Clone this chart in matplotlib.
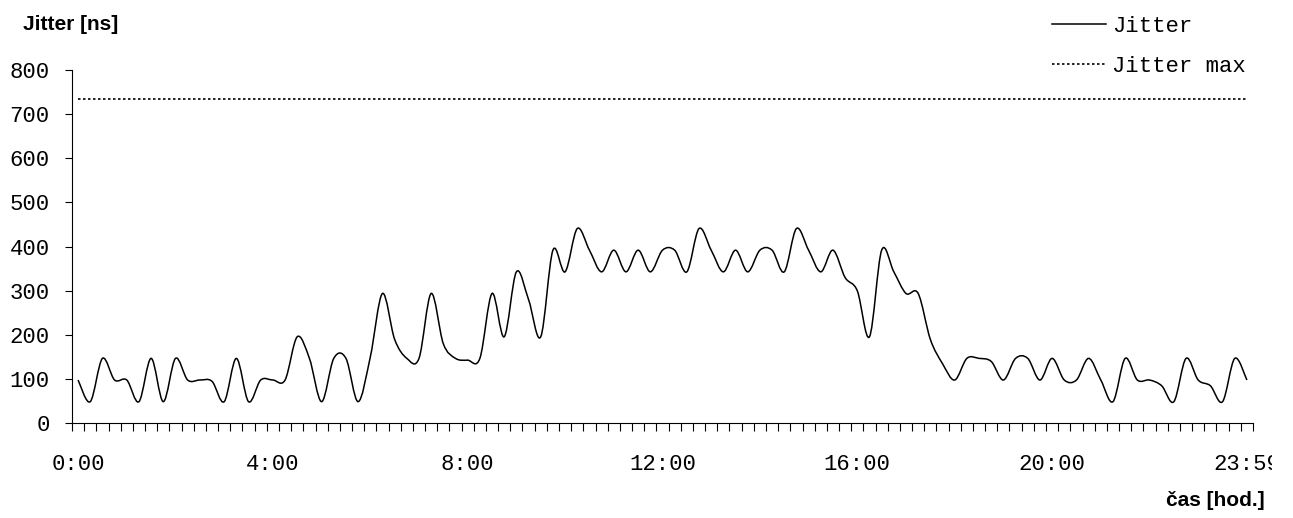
import numpy as np
import matplotlib.pyplot as plt
from matplotlib.lines import Line2D
from matplotlib.path import Path
from matplotlib.patches import PathPatch
from matplotlib.ticker import FixedLocator, MultipleLocator
from matplotlib.transforms import Bbox, TransformedBbox

# jitter sampled every 15 minutes over one day (0:00 .. 23:59)
jitter = [98, 49, 147, 98, 98, 49, 147, 49, 147, 98,
          98, 95, 49, 147, 49, 98, 98, 98, 196, 147,
          49, 147, 147, 49, 150, 294, 190, 147, 147, 294,
          180, 147, 143, 147, 294, 196, 343, 280, 196, 392,
          343, 441, 392, 343, 392, 343, 392, 343, 392, 392,
          343, 441, 392, 343, 392, 343, 392, 392, 343, 441,
          392, 343, 392, 330, 300, 196, 392, 343, 294, 294,
          190, 135, 98, 147, 147, 140, 98, 147, 147, 98,
          147, 98, 98, 147, 98, 49, 147, 98, 98, 85,
          49, 147, 98, 85, 49, 147, 98]
jitter_max = 735
time_labels = ["0:00", "4:00", "8:00", "12:00", "16:00", "20:00", "23:59"]
label_step = 16  # 16 samples = 4 hours

x = np.arange(len(jitter))

plt.rcParams['font.family'] = ['Liberation Mono', 'DejaVu Sans Mono']

W, H = 1293, 518
fig = plt.figure(figsize=(W / 100, H / 100), dpi=100)
ax = fig.add_axes([72 / W, 94.7 / H, 1181 / W, 353.3 / H])

# smoothed line (like excel "smoothed line"): bezier segments through every sample
pts = np.column_stack([x, jitter]).astype(float)
ext = np.vstack([pts[0], pts, pts[-1]])
verts = [pts[0]]
codes = [Path.MOVETO]
for i in range(len(pts) - 1):
    p0, p1, p2, p3 = ext[i], ext[i + 1], ext[i + 2], ext[i + 3]
    verts += [p1 + (p2 - p0) / 6, p2 - (p3 - p1) / 6, p2]
    codes += [Path.CURVE4] * 3
ax.add_patch(PathPatch(Path(verts, codes), fill=False, ec='black', lw=1.1))

ax.plot(x, [jitter_max] * len(x), color='black', lw=1.2, ls=(0, (1.5, 1.5)))

ax.set_xlim(-0.5, len(jitter) - 0.5)
ax.set_ylim(0, 800)
ax.yaxis.set_major_locator(MultipleLocator(100))
ax.set_xticks(x[::label_step])
ax.set_xticklabels(time_labels)
ax.xaxis.set_minor_locator(FixedLocator(np.arange(-0.5, len(jitter))))
ax.tick_params(axis='x', which='major', length=0, pad=22, labelsize=16)
ax.tick_params(axis='x', which='minor', length=6, width=0.8, direction='out')
ax.tick_params(axis='y', length=5, width=0.8, pad=11, labelsize=16)
for s in ['top', 'right']:
    ax.spines[s].set_visible(False)
for s in ['left', 'bottom']:
    ax.spines[s].set_linewidth(0.8)

# last label is cut off at the edge of the chart area
lbl = ax.xaxis.get_major_ticks()[-1].label1
lbl.set_clip_on(True)
lbl.set_clip_box(TransformedBbox(Bbox([[0, 0], [1272 / W, 1]]), fig.transFigure))

handles = [Line2D([], [], color='black', lw=1.1),
           Line2D([], [], color='black', lw=1.2, ls=(0, (1.5, 1.5)))]
ax.legend(handles, ['Jitter', 'Jitter max'], loc='upper right',
          bbox_to_anchor=(1246 / W, 1 - 16 / H),
          bbox_transform=fig.transFigure, frameon=False, fontsize=16,
          handlelength=2.4, handletextpad=0.3, labelspacing=0.85,
          borderpad=0, borderaxespad=0)

fig.text(23 / W, 1 - 24 / H, "Jitter [ns]", fontsize=15, fontweight='bold',
         family='Liberation Sans', ha='left', va='center')
fig.text(1265 / W, 1 - 500 / H, "čas [hod.]", fontsize=15, fontweight='bold',
         family='Liberation Sans', ha='right', va='center')

fig.savefig("out.png", dpi=100)
